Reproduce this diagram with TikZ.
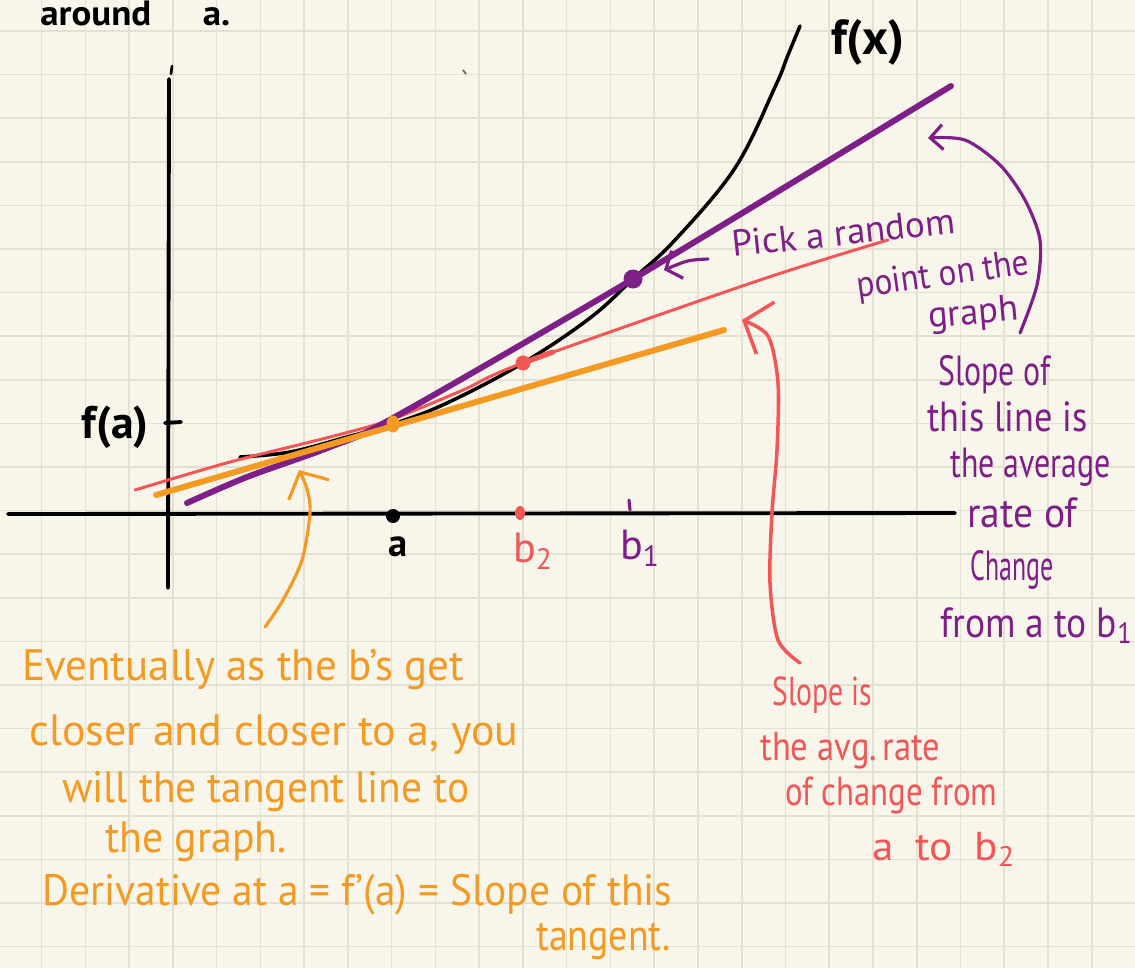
\documentclass[tikz,border=0pt]{standalone}
\usepackage{fontspec}
\setmainfont{PT Sans}
\usepackage{graphicx}
\usetikzlibrary{arrows.meta}
\definecolor{paper}{HTML}{F8F6EA}
\definecolor{gridc}{HTML}{E3E1D3}
\definecolor{plum}{HTML}{7E1F88}
\definecolor{coral}{HTML}{F25656}
\definecolor{amber}{HTML}{F49A22}
% squeeze a line of text to a width given in pixels
\newcommand{\handw}[2]{\resizebox{\dimexpr 0.02cm*#1\relax}{\height}{#2}}

\begin{document}
\begin{tikzpicture}[
    x=0.02cm, y=-0.02cm,
    gridline/.style={gridc, line width=0.9pt},
    axis/.style={line width=2.2pt, line cap=round},
    curvef/.style={line width=2pt, line cap=round, line join=round},
    secone/.style={plum, line width=3.4pt, line cap=round},
    sectwo/.style={coral, line width=1.7pt, line cap=round},
    tang/.style={amber, line width=3.4pt, line cap=round},
    note/.style={line width=1.8pt, line cap=round, line join=round},
    hand/.style={inner sep=0pt, anchor=base west},
    blktext/.style={inner sep=0pt, font=\bfseries\fontsize{26}{30}\selectfont},
    ortext/.style={hand, text=amber, font=\fontsize{25}{29}\selectfont},
    pltext/.style={hand, text=plum, font=\fontsize{24}{28}\selectfont},
    rdtext/.style={hand, text=coral, font=\fontsize{23}{27}\selectfont}
]
\useasboundingbox (0,0) rectangle (1135,968);
% paper
\fill[paper] (0,0) rectangle (1135,968);
\foreach \k in {-1,...,25} \draw[gridline] ({41.7+43.75*\k},0) -- ++(0,968);
\foreach \k in {0,...,21} \draw[gridline] (0,{31+43.6*\k}) -- ++(1135,0);

% points
\coordinate (A)   at (393,424);
\coordinate (B1)  at (633,279);
\coordinate (B2)  at (523,363);
\coordinate (Ax)  at (393,516);
\coordinate (B2x) at (520,513);

% axes
\coordinate (xl) at (8,514);
\coordinate (xr) at (955,513);
\coordinate (yb) at (168,588);
\coordinate (yt) at (169,79);
\draw[axis] (xl) -- (xr);
\draw[axis] (yb) -- (yt);
\draw[axis, line width=1.5pt] (172,66) -- (171,74);
\draw[axis] (165,423) -- (181,422);
\draw[plum, note] (629,500) -- (630,510);
\draw[line width=1pt, black!60] (463,70) -- (466,74);

% f(x)
\draw[curvef] plot[smooth, tension=0.6] coordinates {(240,457) (290,452) (347,437) (A) (447,403) (B2) (590,318) (B1) (675,240) (735,168) (775,87) (788,55) (800,26)};

% secants and tangent
\draw[sectwo] plot[smooth] coordinates {(135,490) (230,462) (330,437) (390,420) (463,390) (B2) (760,280) (888,240)};
\draw[sectwo, line width=3pt] (B2) -- (553,352);
\draw[secone] plot[smooth] coordinates {(187,503) (247,477) (330,447) (393,418) (B1) (951,86)};
\coordinate (t0) at (156,495);
\coordinate (t1) at (724,330);
\draw[tang] (t0) -- (t1);

% dots
\fill[amber] (A) ellipse [x radius=0.13cm, y radius=0.17cm];
\fill (Ax) circle (0.14cm);
\fill[coral] (B2x) ellipse [x radius=0.1cm, y radius=0.14cm];
\fill[plum] (B1) circle (0.19cm);
\fill[coral] (B2) circle (0.15cm);

% axis labels
\node[blktext, font=\bfseries\fontsize{28}{30}\selectfont] (lfx) at (868,42) {f(x)};
\node[blktext] (lfa) at (115,427) {f(a)};
\node[blktext, font=\bfseries\fontsize{22}{26}\selectfont] (la) at (398,547) {a};
\node[inner sep=0pt, text=coral, font=\fontsize{24}{26}\selectfont] (lb2) at (533,551) {b\textsubscript{2}};
\node[inner sep=0pt, text=plum, font=\fontsize{24}{26}\selectfont] (lb1) at (640,548) {b\textsubscript{1}};
\node[blktext, anchor=base west, font=\bfseries\fontsize{20}{24}\selectfont] (head) at (40,25) {\handw{190}{around\hspace{1.4em}a.}};

% annotation arrows
\coordinate (pk0) at (708,259);
\coordinate (pk1) at (664,270);
\draw[note, plum, -{Straight Barb[length=2.5mm,width=6mm]}] (pk0) .. controls (688,260) .. (pk1);
\coordinate (pc0) at (1020,333);
\coordinate (pc1) at (928,138);
\draw[note, plum, -{Straight Barb[length=2.5mm,width=5mm]}] plot[smooth] coordinates {(pc0) (1037,285) (1040,240) (1025,200) (1000,165) (965,140) (pc1)};
\coordinate (rc0) at (800,663);
\coordinate (rc1) at (742,320);
\draw[note, coral, line width=2pt, -{Straight Barb[length=4.5mm,width=11mm]}] plot[smooth] coordinates {(rc0) (778,640) (770,583) (772,513) (777,450) (778,383) (768,336) (rc1)};
\coordinate (oc0) at (265,627);
\coordinate (oc1) at (299,470);
\draw[note, amber, -{Straight Barb[length=4mm,width=9mm]}] plot[smooth] coordinates {(oc0) (283,600) (302,560) (310,513) (307,489) (oc1)};

% notes
\node[pltext, font=\fontsize{21}{25}\selectfont, rotate=6] (pk1t) at (733,257) {\handw{224}{Pick a random}};
\node[pltext, font=\fontsize{21}{25}\selectfont, rotate=8] (pk2t) at (858,298) {\handw{174}{point on the}};
\node[pltext, font=\fontsize{21}{25}\selectfont, rotate=5] (pk3t) at (929,328) {\handw{90}{graph}};
\foreach \txt/\w/\x/\y [count=\i] in {
    {Slope of}/112/938/385,
    {this line is}/160/927/431,
    {the average}/160/950/477,
    {rate of}/110/967/527,
    {Change}/83/970/580,
    {from a to b\textsubscript{1}}/192/940/637}
  \node[pltext] (pt\i) at (\x,\y) {\handw{\w}{\txt}};
\foreach \txt/\w/\x/\y [count=\i] in {
    {Slope is}/100/772/705,
    {the avg.\,rate}/180/760/760,
    {of change from}/212/785/805,
    {a\hspace{0.5em}to\hspace{0.5em}b\textsubscript{2}}/143/872/860}
  \node[rdtext] (rt\i) at (\x,\y) {\handw{\w}{\txt}};
\foreach \txt/\w/\x/\y [count=\i] in {
    {Eventually as the b's get}/442/22/680,
    {closer and closer to a, you}/489/29/745,
    {will the tangent line to}/407/62/802,
    {the graph.}/181/105/852,
    {Derivative at a = f'(a) = Slope of this}/630/42/905,
    {tangent.}/134/536/950}
  \node[ortext] (ot\i) at (\x,\y) {\handw{\w}{\txt}};
\end{tikzpicture}
\end{document}
